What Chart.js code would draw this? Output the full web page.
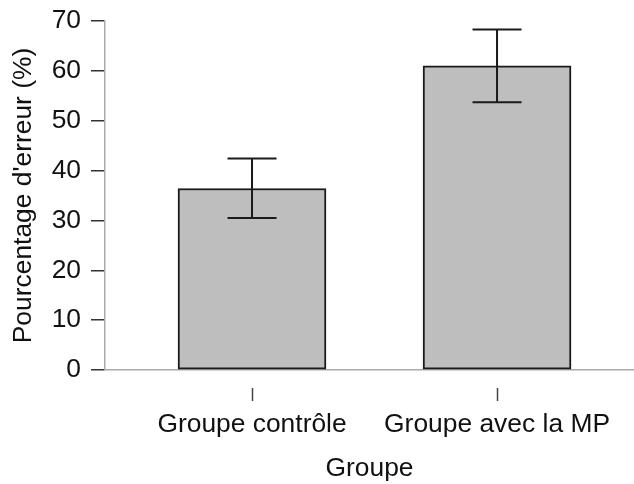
<!DOCTYPE html>
<html lang="fr">
<head>
<meta charset="utf-8">
<title>Pourcentage d'erreur par groupe</title>
<script src="https://cdn.jsdelivr.net/npm/chart.js@4/dist/chart.umd.min.js"></script>
<style>
  html, body { margin: 0; padding: 0; background: #fff; }
  #graphique { display: block; }
</style>
</head>
<body>
<canvas id="graphique" width="634" height="484"></canvas>
<script>
// données
const categories = ['Groupe contrôle', 'Groupe avec la MP'];
const moyennes = [36.4, 61.0];
const erreurBasse = [30.5, 53.7];
const erreurHaute = [42.4, 68.3];
const positions = [0, 1];

// barres d'erreur dessinées à partir des tableaux, via les échelles
const barresErreur = {
  id: 'barresErreur',
  afterDatasetsDraw(chart) {
    const ctx = chart.ctx;
    const x = chart.scales.x;
    const y = chart.scales.y;
    ctx.save();
    ctx.strokeStyle = '#1a1a1a';
    ctx.lineWidth = 2;
    positions.forEach((p, i) => {
      const px = x.getPixelForValue(p);
      const yb = y.getPixelForValue(erreurBasse[i]);
      const yh = y.getPixelForValue(erreurHaute[i]);
      ctx.beginPath();
      ctx.moveTo(px, yb);
      ctx.lineTo(px, yh);
      ctx.moveTo(px - 24.5, yh);
      ctx.lineTo(px + 24.5, yh);
      ctx.moveTo(px - 24.5, yb);
      ctx.lineTo(px + 24.5, yb);
      ctx.stroke();
    });
    ctx.restore();
  }
};

// petites graduations détachées sous l'axe des x
const graduationsX = {
  id: 'graduationsX',
  afterDraw(chart) {
    const ctx = chart.ctx;
    const x = chart.scales.x;
    const bas = chart.chartArea.bottom;
    ctx.save();
    ctx.strokeStyle = '#444';
    ctx.lineWidth = 1.5;
    positions.forEach(p => {
      const px = Math.round(x.getPixelForValue(p)) + 0.5;
      ctx.beginPath();
      ctx.moveTo(px, bas + 18);
      ctx.lineTo(px, bas + 31);
      ctx.stroke();
    });
    ctx.restore();
  }
};

const police = { family: '"Liberation Sans", Arial, sans-serif', size: 26.4 };

new Chart(document.getElementById('graphique'), {
  type: 'bar',
  data: {
    datasets: [{
      data: positions.map((p, i) => ({ x: p, y: moyennes[i] })),
      backgroundColor: '#bebebe',
      borderColor: '#1a1a1a',
      borderWidth: 2,
      borderSkipped: false,
      barThickness: 148
    }]
  },
  options: {
    responsive: false,
    animation: false,
    layout: { padding: { top: 21, right: 0, bottom: 0, left: 0 } },
    plugins: {
      legend: { display: false },
      tooltip: { enabled: false }
    },
    scales: {
      x: {
        type: 'linear',
        offset: false,
        min: -0.6,
        max: 1.559,
        afterBuildTicks: scale => { scale.ticks = positions.map(p => ({ value: p })); },
        afterFit: scale => {
          scale.height = 114;
          scale.paddingLeft = 0;
          scale.paddingRight = 0;
        },
        grid: { display: false, drawTicks: false, tickLength: 0 },
        border: { display: true, color: '#aaaaaa', width: 1.5 },
        ticks: {
          color: '#111',
          font: police,
          padding: 39,
          autoSkip: false,
          maxRotation: 0,
          callback: v => categories[v]
        },
        title: {
          display: true,
          text: 'Groupe',
          color: '#111',
          font: police,
          padding: { top: 0, bottom: -0.5 }
        }
      },
      y: {
        min: 0,
        max: 70,
        afterFit: scale => {
          scale.width = 105;
          scale.paddingTop = 0;
          scale.paddingBottom = 0;
        },
        ticks: { stepSize: 10, color: '#111', font: police, padding: 10 },
        grid: { drawOnChartArea: false, tickLength: 14, color: '#333', lineWidth: 1.5 },
        border: { display: true, color: '#aaaaaa', width: 1.5 },
        title: {
          display: true,
          text: "Pourcentage d'erreur (%)",
          color: '#111',
          font: police,
          padding: { top: 7.5, bottom: 0 }
        }
      }
    }
  },
  plugins: [barresErreur, graduationsX]
});
</script>
</body>
</html>
